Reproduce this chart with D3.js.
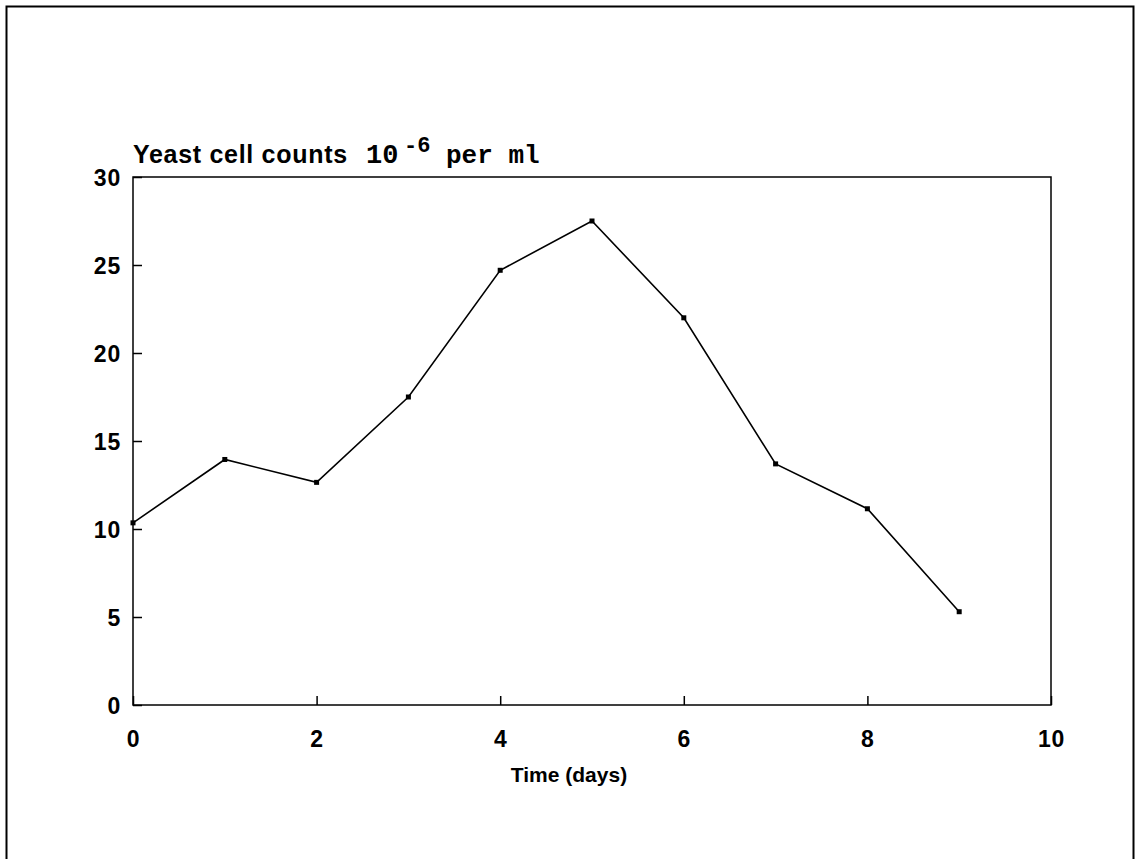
<!DOCTYPE html>
<html><head><meta charset="utf-8">
<script src="https://cdn.jsdelivr.net/npm/d3@7"></script>
<style>
html,body{margin:0;padding:0;background:#fff;}
svg{display:block;}
.tick text{font-family:"Liberation Sans",Arial,sans-serif;font-weight:bold;font-size:23px;fill:#000;letter-spacing:0.8px;}
</style></head>
<body>
<svg id="chart" width="1136" height="859"></svg>
<script>
const days = [0,1,2,3,4,5,6,7,8,9];
const yeastCounts = [10.35,13.95,12.65,17.5,24.7,27.5,22.0,13.7,11.15,5.3];
const xTicks = [0,2,4,6,8,10];
const yTicks = [0,5,10,15,20,25,30];

const svg = d3.select("#chart");
const m = {left:133, right:1051, top:177, bottom:705};
const x = d3.scaleLinear().domain([0,10]).range([m.left,m.right]);
const y = d3.scaleLinear().domain([0,30]).range([m.bottom,m.top]);

// outer frame
svg.append("rect").attr("x",6.5).attr("y",6.5).attr("width",1127).attr("height",870)
  .attr("fill","none").attr("stroke","#000").attr("stroke-width",2);

// plot box
svg.append("rect").attr("x",m.left).attr("y",m.top).attr("width",m.right-m.left).attr("height",m.bottom-m.top)
  .attr("fill","none").attr("stroke","#000").attr("stroke-width",1.5);

const xAxis = svg.append("g").attr("transform",`translate(0,${m.bottom})`)
  .call(d3.axisBottom(x).tickValues(xTicks).tickSize(-9).tickSizeOuter(0).tickFormat(d3.format("d")));
xAxis.select(".domain").remove();
xAxis.selectAll("line").attr("stroke","#000").attr("stroke-width",1.5);
xAxis.selectAll("text").attr("dy",null).attr("y",42);

const yAxis = svg.append("g").attr("transform",`translate(${m.left},0)`)
  .call(d3.axisLeft(y).tickValues(yTicks).tickSize(-9).tickSizeOuter(0).tickFormat(d3.format("d")));
yAxis.select(".domain").remove();
yAxis.selectAll("line").attr("stroke","#000").attr("stroke-width",1.5);
yAxis.selectAll("text").attr("x",-12).attr("dy","0.36em");

// line
svg.append("path").datum(days.map((d,i)=>[d,yeastCounts[i]]))
  .attr("fill","none").attr("stroke","#000").attr("stroke-width",1.6)
  .attr("d",d3.line().x(d=>x(d[0])).y(d=>y(d[1])));

svg.selectAll("rect.pt").data(days).enter().append("rect").attr("class","pt")
  .attr("x",(d)=>x(d)-2.5).attr("y",(d,i)=>y(yeastCounts[i])-2.5)
  .attr("width",5).attr("height",5).attr("fill","#000");

// title
const t = svg.append("text").attr("x",133).attr("y",163).attr("fill","#000");
t.append("tspan").attr("font-family","Liberation Sans, Arial, sans-serif").attr("font-weight","bold").attr("font-size","25px").attr("letter-spacing","0.7px").text("Yeast cell counts ");
t.append("tspan").attr("x",366).attr("font-family","Liberation Mono, monospace").attr("font-weight","bold").attr("font-size","27px").text("10");
t.append("tspan").attr("dy",-11).attr("x",404).attr("font-family","Liberation Mono, monospace").attr("font-weight","bold").attr("font-size","22px").text("-6");
t.append("tspan").attr("dy",11).attr("x",446).attr("font-family","Liberation Mono, monospace").attr("font-weight","bold").attr("font-size","26px").text("per ml");

svg.append("text").attr("x",569).attr("y",782).attr("text-anchor","middle")
  .attr("font-family","Liberation Sans, Arial, sans-serif").attr("font-weight","bold").attr("font-size","21px").attr("fill","#000")
  .text("Time (days)");
</script>
</body></html>
